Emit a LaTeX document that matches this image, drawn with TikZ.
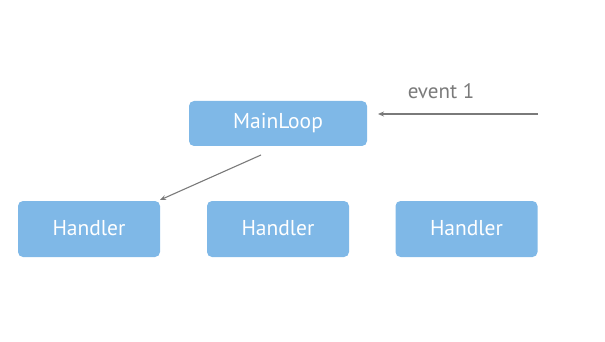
\documentclass[tikz,border=0pt]{standalone}
\usepackage{fontspec}
\setmainfont{PT Sans}
\usepackage{xcolor}
\usepackage{tikz}
\usetikzlibrary{arrows.meta}
\definecolor{boxblue}{HTML}{7FB8E7}
\definecolor{arrowgray}{HTML}{7A7A7A}

\begin{document}
\begin{tikzpicture}[x=1pt,y=-1pt]
        \tikzset{loopbox/.style={rectangle, rounded corners=5pt, draw=none, fill=boxblue, text=white, font=\fontsize{21.5}{24}\selectfont, minimum height=45pt, inner sep=0pt}}
        \tikzset{handlerbox/.style={loopbox, minimum width=142pt, minimum height=56pt}}
        \tikzset{flow/.style={draw=arrowgray, line width=1.1pt, -{Stealth[length=6pt,width=5pt]}}}
        \useasboundingbox (0,0) rectangle (605,342);

	%---NODES---
        \node[loopbox, minimum width=178pt] (main) at (278,123.5) {\raisebox{2pt}{MainLoop}};

        \node[handlerbox] (h1) at (89,229) {\raisebox{2pt}{Handler}};
        \node[handlerbox] (h2) at (278,229) {\raisebox{2pt}{Handler}};
        \node[handlerbox] (h3) at (466.5,229) {\raisebox{2pt}{Handler}};

        \coordinate (src) at (538,114);
        \coordinate (dst) at (378,114);
        \coordinate (tail) at (261,155);
        \coordinate (head) at (160,200);

	%---EDGES---
        \draw[flow]   (src) -- (dst) ;
        \draw[flow]   (tail) -- (head) ;

        \node[text=arrowgray, font=\fontsize{21}{24}\selectfont] (ev) at (441,91) {event 1} ;
    \end{tikzpicture}
\end{document}
